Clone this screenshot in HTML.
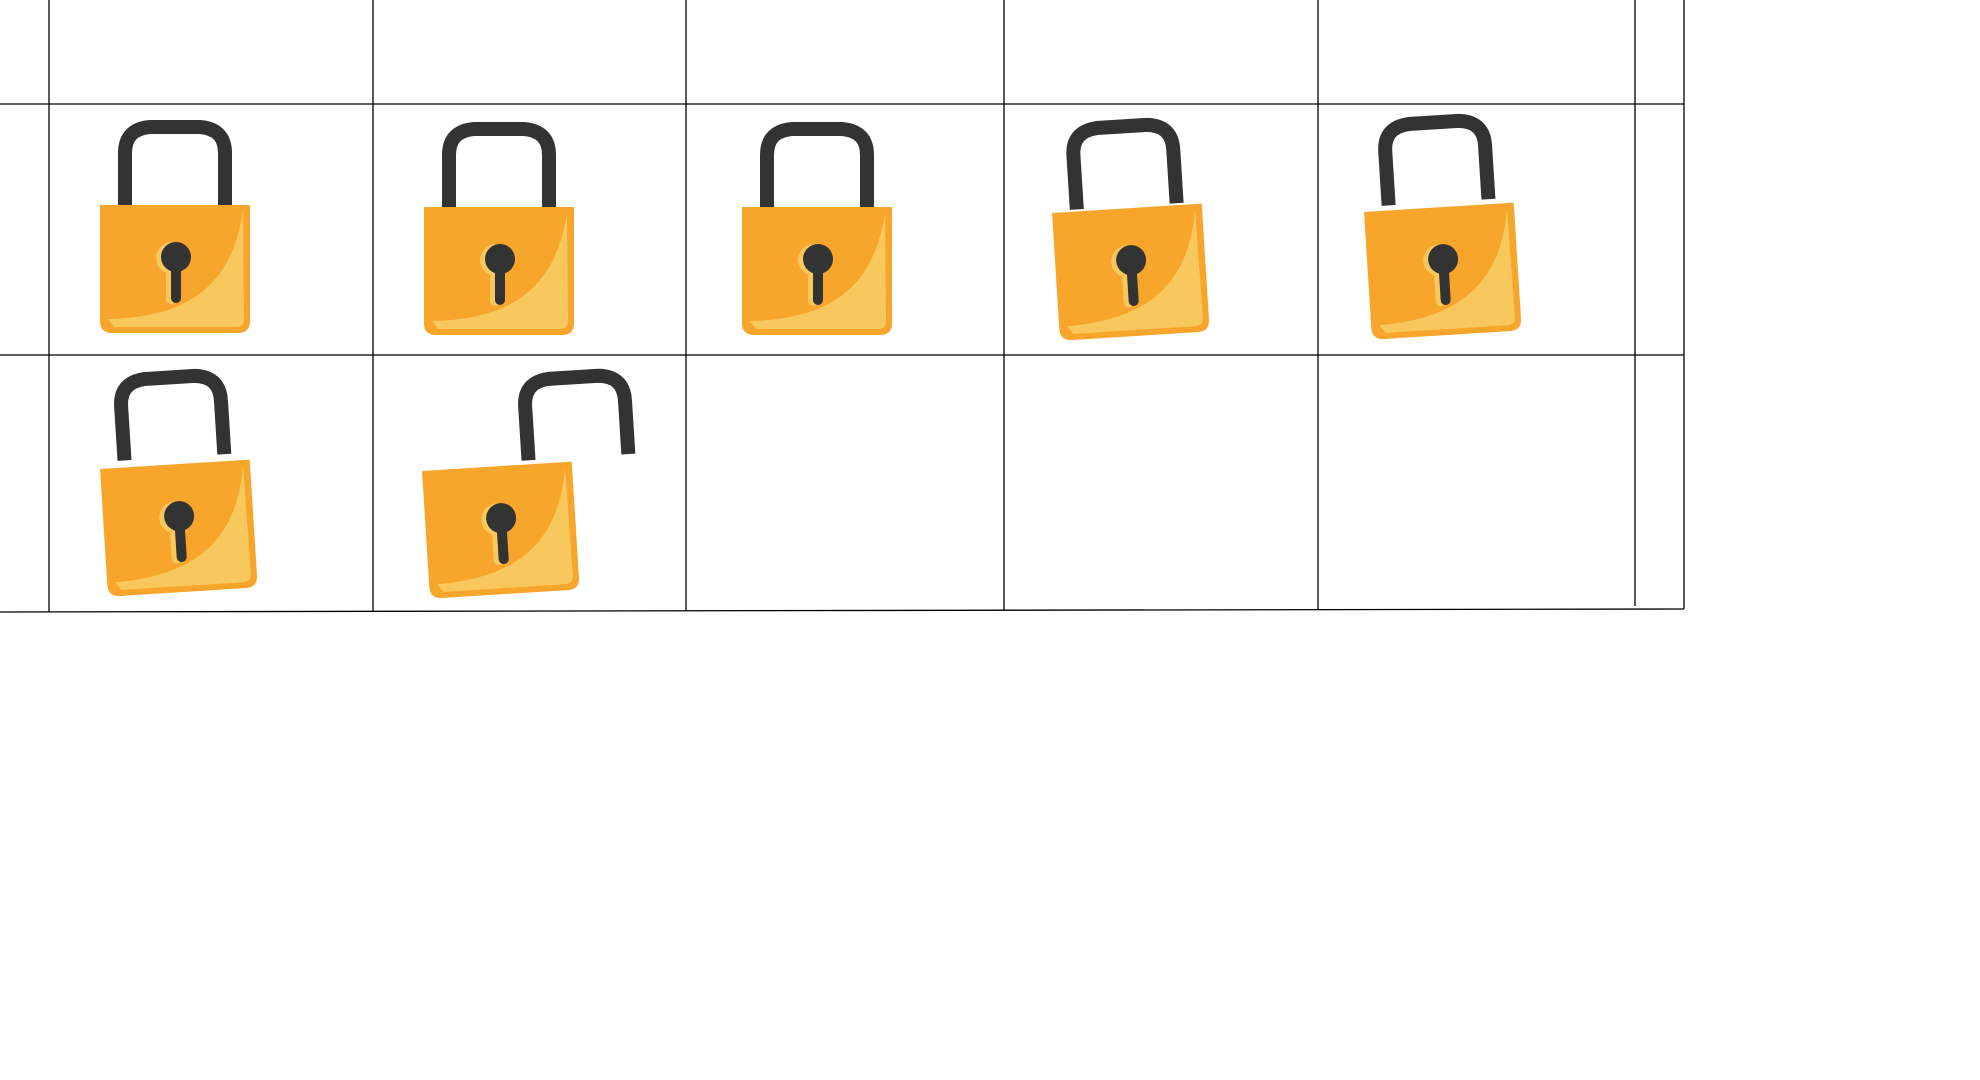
<!DOCTYPE html>
<html><head><meta charset="utf-8"><style>html,body{margin:0;padding:0;background:#fff}svg{display:block}</style></head>
<body>
<svg width="1980" height="1080" viewBox="0 0 1980 1080">
<defs>
<g id="body">
<path d="M0,0 H150 V116 Q150,128 138,128 H12 Q0,128 0,116 Z" fill="#F7A52B"/>
<path d="M143,6 C133,70 100,112 8,114 L14,122 L136,122 Q144,122 144,114 Z" fill="#F9C85C"/>
<circle cx="72" cy="53" r="16" fill="#F9C85C"/>
<rect x="66" y="55" width="10" height="44" rx="5" fill="#F9C85C"/>
<circle cx="76" cy="52" r="15" fill="#333"/>
<rect x="71" y="54" width="10" height="44" rx="5" fill="#333"/>
</g>
<path id="shackle" d="M25,2 V-52 Q25,-76 50,-78 H100 Q125,-76 125,-52 V2" fill="none" stroke="#333" stroke-width="14"/>
</defs>
<g stroke="#000" stroke-width="1.3">
<line x1="0" y1="104" x2="1684" y2="104"/>
<line x1="0" y1="355" x2="1684" y2="355"/>
<line x1="0" y1="612" x2="1684" y2="609"/>
<line x1="49" y1="0" x2="49" y2="612"/>
<line x1="373" y1="0" x2="373" y2="611"/>
<line x1="686" y1="0" x2="686" y2="611"/>
<line x1="1004" y1="0" x2="1004" y2="610"/>
<line x1="1318" y1="0" x2="1318" y2="610"/>
<line x1="1635" y1="0" x2="1635" y2="606"/>
<line x1="1684" y1="0" x2="1684" y2="609"/>
</g>
<g transform="translate(100,205)"><use href="#shackle"/><use href="#body"/></g>
<g transform="translate(424,207)"><use href="#shackle"/><use href="#body"/></g>
<g transform="translate(742,207)"><use href="#shackle"/><use href="#body"/></g>
<g transform="translate(1052,213) rotate(-3.6)"><use href="#shackle" transform="translate(0,-4)"/><use href="#body"/></g>
<g transform="translate(1364,212) rotate(-3.6)"><use href="#shackle" transform="translate(0,-7)"/><use href="#body"/></g>
<g transform="translate(100,469) rotate(-3.6)"><use href="#shackle" transform="translate(0,-9)"/><use href="#body"/></g>
<g transform="translate(422,471) rotate(-3.6)"><use href="#shackle" transform="translate(82,-6)"/><use href="#body"/></g>
</svg>
</body></html>
